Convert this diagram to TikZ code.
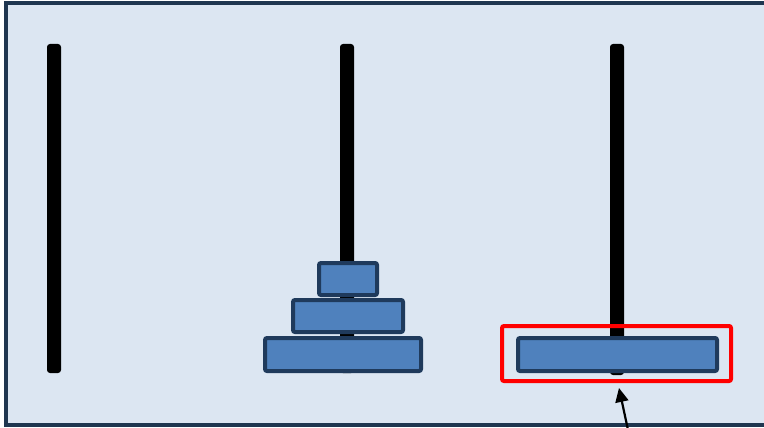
\documentclass[tikz,border=0pt]{standalone}
\usetikzlibrary{arrows.meta}
\begin{document}
\begin{tikzpicture}[x=1pt,y=-1pt,
  peg/.style={fill=black,rounded corners=3pt},
  disk/.style={draw=diskborder,line width=4pt,fill=diskfill,rounded corners=2pt,inner sep=0pt},
  hilite/.style={draw=red,line width=4pt,rounded corners=2pt,inner sep=0pt}]
\definecolor{bgfill}{HTML}{DCE6F2}
\definecolor{frame}{HTML}{1F3650}
\definecolor{diskborder}{HTML}{1F3A5C}
\definecolor{diskfill}{HTML}{4F81BD}
\useasboundingbox (0,0) rectangle (764,428);
\draw[frame,line width=4pt,fill=bgfill] (6,3) rectangle (772,425);
% pegs
\fill[peg] (47,44) rectangle (61,373);
\fill[peg] (340,44) rectangle (354,373);
\fill[peg] (610,44) rectangle (624,375);
% disks
\node[disk,minimum width=58pt,minimum height=32pt] (d1) at (348,279) {};
\node[disk,minimum width=110pt,minimum height=32pt] (d2) at (348,316) {};
\node[disk,minimum width=156pt,minimum height=33pt] (d3) at (343,354.5) {};
\node[disk,minimum width=199pt,minimum height=33pt] (d4) at (617.5,354.5) {};
\node[hilite,minimum width=229pt,minimum height=55pt] (hl) at (616.5,353.5) {};
\coordinate (tail) at (628,430);
\coordinate (tip) at (619,388);
\draw[line width=2.2pt,-{Triangle[length=14pt,width=13pt]}] (tail) -- (tip);
\end{tikzpicture}
\end{document}
